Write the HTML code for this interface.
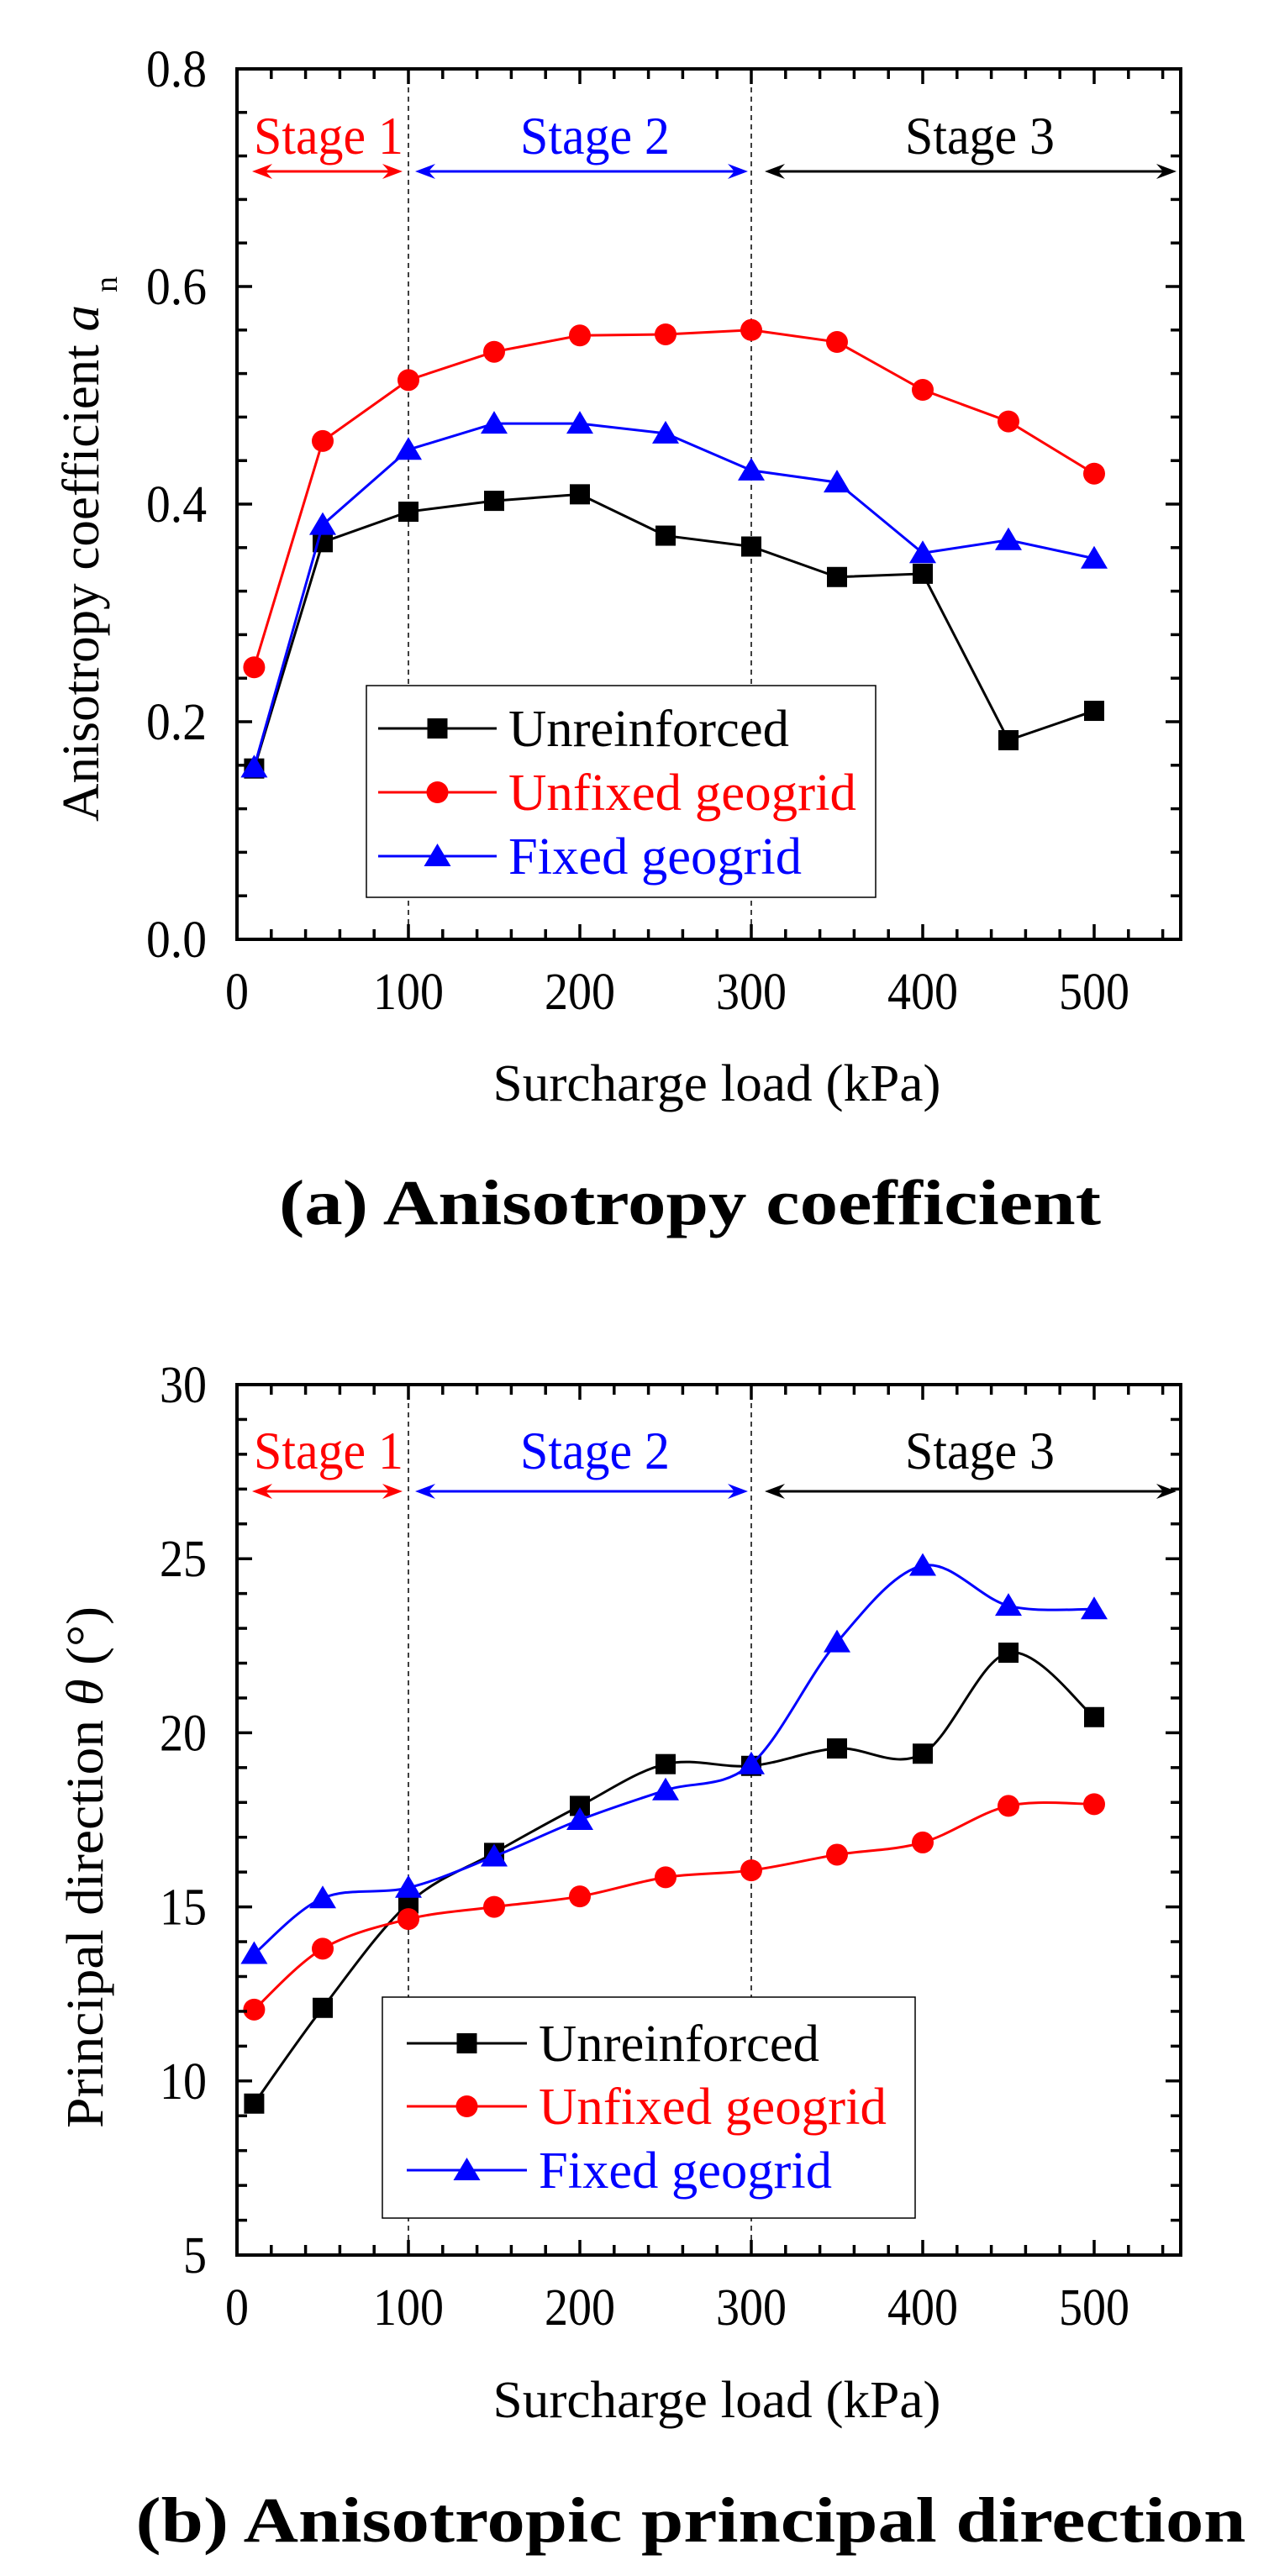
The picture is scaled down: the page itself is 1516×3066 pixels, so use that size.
<!DOCTYPE html>
<html><head><meta charset="utf-8"><style>
html,body{margin:0;padding:0;background:#fff;}
svg{display:block;}
</style></head><body>
<svg id="s" width="1516" height="3066" viewBox="0 0 1516 3066" xmlns="http://www.w3.org/2000/svg" font-family="'Liberation Serif','Times New Roman',Times,serif">
<rect width="1516" height="3066" fill="#fff"/>
<g id="g"></g>
<text x="853" y="1310" font-size="62" text-anchor="middle" textLength="533" lengthAdjust="spacingAndGlyphs">Surcharge load (kPa)</text>
<text x="853" y="2877" font-size="62" text-anchor="middle" textLength="533" lengthAdjust="spacingAndGlyphs">Surcharge load (kPa)</text>
<text x="821" y="1457" font-size="76" font-weight="bold" text-anchor="middle" textLength="978" lengthAdjust="spacingAndGlyphs">(a) Anisotropy coefficient</text>
<text x="822" y="3025" font-size="76" font-weight="bold" text-anchor="middle" textLength="1321" lengthAdjust="spacingAndGlyphs">(b) Anisotropic principal direction</text>
<text transform="translate(117,978) rotate(-90)" font-size="62" textLength="615" lengthAdjust="spacingAndGlyphs">Anisotropy coefficient <tspan font-style="italic">a</tspan></text>
<text transform="translate(139,348) rotate(-90)" font-size="38">n</text>
<text transform="translate(122,2533) rotate(-90)" font-size="62" textLength="621" lengthAdjust="spacingAndGlyphs">Principal direction <tspan font-style="italic">θ</tspan> (°)</text>
</svg>
<script>
const NS="http://www.w3.org/2000/svg";
const g=document.getElementById('g');
function el(t,a,txt){const e=document.createElementNS(NS,t);for(const k in a)e.setAttribute(k,a[k]);if(txt!==undefined)e.textContent=txt;g.appendChild(e);return e;}
function tw(s){let w=0;for(const c of s)w+=(c==='.')?16:28;return w;}
const X0=282,X1=1405,XS=2.04;
const xs=[10,50,100,150,200,250,300,350,400,450,500];
function px(x){return X0+XS*x;}
function smoothPath(P){
 let d="M"+P[0][0]+","+P[0][1];
 for(let i=0;i<P.length-1;i++){
  const p0=P[Math.max(0,i-1)],p1=P[i],p2=P[i+1],p3=P[Math.min(P.length-1,i+2)];
  const c1=[p1[0]+(p2[0]-p0[0])/6,p1[1]+(p2[1]-p0[1])/6];
  const c2=[p2[0]-(p3[0]-p1[0])/6,p2[1]-(p3[1]-p1[1])/6];
  d+=" C"+c1+" "+c2+" "+p2;
 }
 return d;
}
function marker(type,x,y,c){
 if(type==='s')el('rect',{x:x-12,y:y-12,width:24,height:24,fill:c});
 else if(type==='c')el('circle',{cx:x,cy:y,r:13,fill:c});
 else el('polygon',{points:`${x},${y-15} ${x-16},${y+12} ${x+16},${y+12}`,fill:c});
}
const LW={'Unreinforced':334,'Unfixed geogrid':414,'Fixed geogrid':349};
function panel(o){
 const {Y0,Y1,vmin,vmax,minor,major,fmt,series,smooth,leg,stageTxtY,arrowY}=o;
 const ys=v=>Y1-(v-vmin)/(vmax-vmin)*(Y1-Y0);
 [100,300].forEach(x=>el('line',{x1:px(x),y1:Y0,x2:px(x),y2:Y1,stroke:'#000','stroke-width':1.5,'stroke-dasharray':'6,5'}));
 const st=[["Stage 1",391,'#f00',300,479],["Stage 2",708,'#00f',494,890],["Stage 3",1166,'#000',910,1400]];
 st.forEach(s=>{
  el('text',{x:s[1],y:stageTxtY,'font-size':64,'text-anchor':'middle',fill:s[2],textLength:178,lengthAdjust:'spacingAndGlyphs'},s[0]);
  el('line',{x1:s[3]+10,y1:arrowY,x2:s[4]-10,y2:arrowY,stroke:s[2],'stroke-width':3});
  el('polygon',{points:`${s[3]},${arrowY} ${s[3]+24},${arrowY-9} ${s[3]+16},${arrowY} ${s[3]+24},${arrowY+9}`,fill:s[2]});
  el('polygon',{points:`${s[4]},${arrowY} ${s[4]-24},${arrowY-9} ${s[4]-16},${arrowY} ${s[4]-24},${arrowY+9}`,fill:s[2]});
 });
 series.forEach(s=>{
  const P=s.v.map((v,i)=>[px(xs[i]),ys(v)]);
  const d=smooth?smoothPath(P):"M"+P.map(p=>p.join(',')).join(' L');
  el('path',{d:d,fill:'none',stroke:s.c,'stroke-width':3});
  P.forEach(p=>marker(s.m,p[0],p[1],s.c));
 });
 el('rect',{x:leg.x,y:leg.y,width:leg.w,height:leg.h,fill:'#fff',stroke:'#000','stroke-width':1.5});
 series.forEach((s,i)=>{
  const cy=leg.r[i];
  el('line',{x1:leg.l0,y1:cy,x2:leg.l1,y2:cy,stroke:s.c,'stroke-width':3});
  marker(s.m,(leg.l0+leg.l1)/2,cy,s.c);
  el('text',{x:leg.tx,y:cy+21,'font-size':62,fill:s.c,textLength:LW[s.name],lengthAdjust:'spacingAndGlyphs'},s.name);
 });
 el('rect',{x:X0,y:Y0,width:X1-X0,height:Y1-Y0,fill:'none',stroke:'#000','stroke-width':4});
 for(let x=0;x<=550;x+=20){const X=px(x);const L=(x%100===0)?18:12;
  el('line',{x1:X,y1:Y1,x2:X,y2:Y1-L,stroke:'#000','stroke-width':3.5});
  el('line',{x1:X,y1:Y0,x2:X,y2:Y0+L,stroke:'#000','stroke-width':3.5});}
 for(let x=0;x<=500;x+=100){const s=String(x);el('text',{x:px(x),y:Y1+83,'font-size':62,'text-anchor':'middle',textLength:tw(s),lengthAdjust:'spacingAndGlyphs'},s);}
 const n=Math.round((vmax-vmin)/minor);
 for(let i=0;i<=n;i++){const v=vmin+i*minor;const Y=ys(v);const isM=Math.abs((v-vmin)/major-Math.round((v-vmin)/major))<1e-6;const L=isM?18:12;
  el('line',{x1:X0,y1:Y,x2:X0+L,y2:Y,stroke:'#000','stroke-width':3.5});
  el('line',{x1:X1,y1:Y,x2:X1-L,y2:Y,stroke:'#000','stroke-width':3.5});
  if(isM){const s=fmt(v);el('text',{x:246,y:Y+21,'font-size':62,'text-anchor':'end',textLength:tw(s),lengthAdjust:'spacingAndGlyphs'},s);}}
}
panel({Y0:82,Y1:1118,vmin:0,vmax:0.8,minor:0.04,major:0.2,fmt:v=>v.toFixed(1),smooth:false,stageTxtY:183,arrowY:204,
 series:[
 {name:'Unreinforced',c:'#000',m:'s',v:[0.157,0.365,0.393,0.403,0.409,0.371,0.361,0.333,0.336,0.183,0.210]},
 {name:'Unfixed geogrid',c:'#f00',m:'c',v:[0.250,0.458,0.514,0.540,0.555,0.556,0.560,0.549,0.505,0.476,0.428]},
 {name:'Fixed geogrid',c:'#00f',m:'t',v:[0.158,0.381,0.450,0.474,0.474,0.465,0.431,0.420,0.355,0.367,0.350]}],
 leg:{x:436,y:816,w:606,h:252,l0:450,l1:591,tx:605,r:[867,943,1019]}});
panel({Y0:1648,Y1:2684,vmin:5,vmax:30,minor:1,major:5,fmt:v=>String(Math.round(v)),smooth:true,stageTxtY:1748,arrowY:1775,
 series:[
 {name:'Unreinforced',c:'#000',m:'s',v:[9.35,12.1,15.1,16.55,17.9,19.1,19.05,19.55,19.4,22.3,20.45]},
 {name:'Unfixed geogrid',c:'#f00',m:'c',v:[12.05,13.8,14.65,15.0,15.3,15.85,16.05,16.5,16.85,17.9,17.95]},
 {name:'Fixed geogrid',c:'#00f',m:'t',v:[13.65,15.25,15.55,16.45,17.5,18.35,19.1,22.6,24.8,23.65,23.55]}],
 leg:{x:455,y:2377,w:634,h:263,l0:484,l1:627,tx:641,r:[2432,2507,2583]}});
</script>
</body></html>
